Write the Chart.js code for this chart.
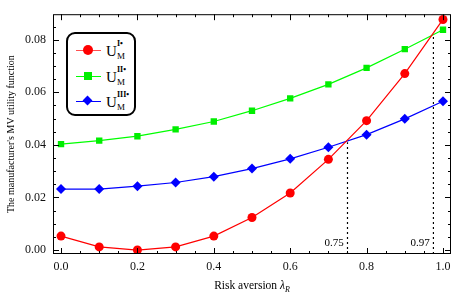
<!DOCTYPE html>
<html><head><meta charset="utf-8">
<script src="https://cdn.jsdelivr.net/npm/chart.js@4/dist/chart.umd.min.js"></script>
<style>
body{margin:0;background:#fff;}
#wrap{position:relative;width:467px;height:296px;font-family:"Liberation Serif","DejaVu Serif",serif;color:#000;}
#c{position:absolute;left:0;top:0;}
#legend{position:absolute;left:66px;top:32px;width:70px;height:84px;border:2px solid #000;border-radius:9px;background:#fff;box-sizing:border-box;}
.row{position:absolute;left:0;width:100%;height:20px;}
.ln{position:absolute;left:8px;top:9px;width:25px;height:1.4px;}
.mk{position:absolute;}
.lab{position:absolute;left:38px;top:0px;font-size:15px;line-height:20px;}
.lab sup{position:absolute;left:11px;top:-2px;font-size:8px;font-weight:bold;line-height:10px;white-space:nowrap;}
.lab sub{position:absolute;left:11px;top:10px;font-size:9px;line-height:10px;}
#xt{position:absolute;top:279px;left:53px;width:398px;text-align:center;font-size:11.5px;}
#xt sub{font-size:8px;}
.ann{position:absolute;font-size:11px;line-height:12px;}
</style></head><body>
<div id="wrap">
<canvas id="c" width="467" height="296"></canvas>
<div id="legend">
 <div class="row" style="top:7px"><div class="ln" style="background:#ff5050"></div><div class="mk" style="left:15px;top:4px;width:10px;height:10px;border-radius:50%;background:#ff0000"></div><div class="lab">U<sup>I•</sup><sub>M</sub></div></div>
 <div class="row" style="top:33px"><div class="ln" style="background:#00ff00"></div><div class="mk" style="left:16px;top:5px;width:8px;height:8px;background:#00ee00"></div><div class="lab">U<sup>II•</sup><sub>M</sub></div></div>
 <div class="row" style="top:58px"><div class="ln" style="background:#0000ff"></div><div class="mk" style="left:16px;top:5px;width:7px;height:7px;background:#0000ff;transform:rotate(45deg)"></div><div class="lab">U<sup>III•</sup><sub>M</sub></div></div>
</div>
<div id="xt">Risk aversion <i>λ</i><sub><i>R</i></sub></div>
<div class="ann" id="a0">0.75</div>
<div class="ann" id="a1">0.97</div>
</div>
<script>
const lambdas = [0.0,0.1,0.2,0.3,0.4,0.5,0.6,0.7,0.8,0.9,1.0];
const uI   = [0.0053,0.0012,0.0000,0.0012,0.0053,0.0124,0.0217,0.0345,0.0492,0.0671,0.0877];
const uII  = [0.0403,0.0416,0.0433,0.0459,0.0489,0.0530,0.0577,0.0630,0.0693,0.0764,0.0838];
const uIII = [0.0232,0.0232,0.0243,0.0257,0.0279,0.0310,0.0347,0.0391,0.0439,0.0499,0.0566];
const thresholds = [0.75, 0.975];
const thresholdTops = [0.0410, 0.0818];
const thresholdLabels = ["0.75","0.97"];
const xTicks = [0,0.2,0.4,0.6,0.8,1.0];
const yTicks = [0,0.02,0.04,0.06,0.08];
const xMinor = 0.05, yMinor = 0.005;
const xMin = -0.021, xMax = 1.021, yMin = -0.0015, yMax = 0.0897;

const pts = arr => lambdas.map((x,i)=>({x:x,y:arr[i]}));
const dashSets = thresholds.map((t,i)=>({
  data:[{x:t,y:yMin},{x:t,y:thresholdTops[i]}],
  borderColor:'#000',borderWidth:1.2,borderDash:[2,3],pointRadius:0,order:5
}));

const framePlugin = {
  id:'frame',
  afterDraw(chart){
    const {ctx, chartArea:a, scales:{x,y}} = chart;
    ctx.save();
    ctx.strokeStyle='#000';ctx.lineWidth=1;
    ctx.strokeRect(a.left+0.5,a.top+0.5,a.right-a.left-1,a.bottom-a.top-1);
    ctx.beginPath();
    for(let v=Math.ceil(xMin/xMinor)*xMinor; v<=xMax+1e-9; v+=xMinor){
      const major = Math.abs(v/0.2-Math.round(v/0.2))<1e-6;
      const L = major?6:3;
      const px = Math.round(x.getPixelForValue(v))+0.5;
      ctx.moveTo(px,a.bottom);ctx.lineTo(px,a.bottom-L);
      ctx.moveTo(px,a.top);ctx.lineTo(px,a.top+L);
    }
    for(let v=Math.ceil(yMin/yMinor)*yMinor; v<=yMax+1e-9; v+=yMinor){
      const major = Math.abs(v/0.02-Math.round(v/0.02))<1e-6;
      const L = major?6:3;
      const py = Math.round(y.getPixelForValue(v))+0.5;
      ctx.moveTo(a.left,py);ctx.lineTo(a.left+L,py);
      ctx.moveTo(a.right,py);ctx.lineTo(a.right-L,py);
    }
    ctx.stroke();
    ctx.restore();
    thresholds.forEach((t,i)=>{
      const el=document.getElementById('a'+i);
      const px=x.getPixelForValue(t);
      el.textContent=thresholdLabels[i];
      el.style.left=(px-4-el.offsetWidth)+'px';
      el.style.top=(y.getPixelForValue(0.0030)-6)+'px';
    });
  }
};

new Chart(document.getElementById('c'),{
  type:'line',
  data:{datasets:[
    {data:pts(uI),borderColor:'#ff0000',backgroundColor:'#ff0000',borderWidth:1.2,pointStyle:'circle',pointRadius:4.5,pointBorderWidth:0,order:1},
    {data:pts(uII),borderColor:'#00ff00',backgroundColor:'#00ee00',borderWidth:1.2,pointStyle:'rect',pointRadius:4.5,pointBorderWidth:0,order:2},
    {data:pts(uIII),borderColor:'#0000ff',backgroundColor:'#0000ff',borderWidth:1.2,pointStyle:'rectRot',pointRadius:5,pointBorderWidth:0,order:3},
    ...dashSets
  ]},
  options:{
    responsive:false,animation:false,devicePixelRatio:1,
    layout:{padding:{left:0,top:9,right:16,bottom:0}},
    plugins:{legend:{display:false},tooltip:{enabled:false}},
    scales:{
      x:{type:'linear',min:xMin,max:xMax,
        grid:{display:false,drawTicks:false},border:{display:false},
        afterBuildTicks:s=>{s.ticks=xTicks.map(v=>({value:v}));},
        afterFit:s=>{s.height=42;},
        ticks:{padding:6,color:'#111',font:{family:'"Liberation Serif", serif',size:12},callback:v=>Number(v).toFixed(1),maxRotation:0}
      },
      y:{type:'linear',min:yMin,max:yMax,
        grid:{display:false,drawTicks:false},border:{display:false},
        afterBuildTicks:s=>{s.ticks=yTicks.map(v=>({value:v}));},
        afterFit:s=>{s.width=53;},
        title:{display:true,text:"The manufacturer's MV utility function",color:'#000',font:{family:'"Liberation Serif", serif',size:10},padding:{top:5,bottom:0}},
        ticks:{padding:7,color:'#111',font:{family:'"Liberation Serif", serif',size:12},callback:v=>Number(v).toFixed(2)}
      }
    }
  },
  plugins:[framePlugin]
});
</script>
</body></html>
